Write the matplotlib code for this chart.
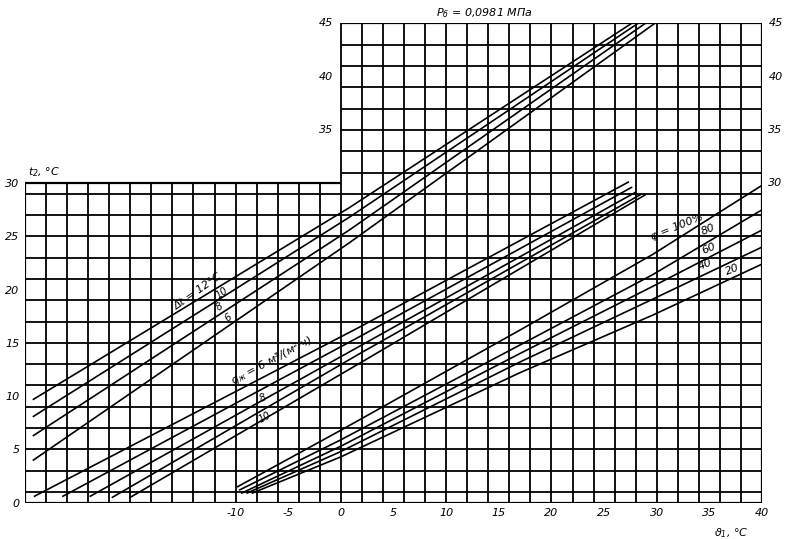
import matplotlib
matplotlib.use("Agg")
import matplotlib.pyplot as plt
import matplotlib.font_manager as fm
import numpy as np

# шрифт: узкий, если есть
names = {f.name for f in fm.fontManager.ttflist}
fam = "Liberation Sans Narrow" if "Liberation Sans Narrow" in names else "DejaVu Sans"
plt.rcParams['font.family'] = [fam, 'DejaVu Sans']
plt.rcParams['font.style'] = 'italic'
plt.rcParams['mathtext.default'] = 'it'

# Семейство Δt (верхние линии)
dt_labels = ["Δt = 12°C", "10", "8", "6"]
dt_x = [[-29.2, 0.8, 27.6], [-29.2, 0.8, 28.2], [-29.2, 0.8, 28.9], [-29.2, 0.8, 29.8]]
dt_t = [[9.7, 27.7, 45.0], [8.1, 26.8, 45.0], [6.3, 25.6, 45.0], [4.0, 24.4, 45.0]]

# Семейство q_ж (средние линии)
q_labels = ["$q_ж$ = 6 м³/(м²·ч)", "8", "10"]
q_x = [[-29.1, 1.8, 27.3], [-26.4, 1.8, 27.6], [-23.8, 1.8, 27.9],
       [-21.7, 1.8, 28.4], [-20.0, 1.8, 28.9]]
q_t = [[0.6, 16.5, 30.1], [0.6, 15.6, 29.6], [0.6, 14.7, 29.1],
       [0.5, 14.0, 28.9], [0.5, 13.1, 28.9]]

# Семейство φ (нижние линии)
phi_labels = ["φ = 100%", "80", "60", "40", "20"]
phi_x = [[-9.8, 0, 17, 29.6, 40], [-9.6, 0, 17, 29.6, 40], [-9.4, 0, 17, 29.6, 40],
         [-8.9, 0, 17, 29.6, 40], [-8.4, 0, 17, 29.6, 40]]
phi_t = [[1.5, 6.8, 16.2, 23.3, 29.8], [1.2, 5.9, 14.8, 21.4, 27.5],
         [0.9, 5.3, 14.0, 20.3, 25.6], [0.9, 4.8, 13.2, 19.1, 24.0],
         [0.9, 4.3, 12.2, 17.6, 22.4]]

xticks = [-10, -5, 0, 5, 10, 15, 20, 25, 30, 35, 40]
yticks_left = [0, 5, 10, 15, 20, 25, 30]
yticks_right = [30, 35, 40, 45]
yticks_upper = [35, 40, 45]

fig = plt.figure(figsize=(7.87, 5.39), dpi=100)
ax = fig.add_axes([0.0318, 0.0675, 0.9365, 0.889])
ax.set_xlim(-30, 40)
ax.set_ylim(0, 45)
for s in ax.spines.values():
    s.set_visible(False)

# сетка: вертикальные линии через 2, горизонтальные по нечётным
glw = 1.3
for x in np.arange(-28, 40, 2):
    ax.vlines(x, 0, 30 if x < 0 else 45, color='black', lw=glw)
for t in np.arange(1, 45, 2):
    ax.hlines(t, -30 if t < 30 else 0, 40, color='black', lw=glw)
# рамка
ax.vlines(-30, 0, 30, color='black', lw=1.6)
ax.vlines(40, 0, 45, color='black', lw=1.6)
ax.hlines(0, -30, 40, color='black', lw=1.6)
ax.hlines(30, -30, 0, color='black', lw=1.6)
ax.hlines(45, 0, 40, color='black', lw=1.6)

clw = 1.2
for xs, ts in zip(dt_x, dt_t):
    ax.plot(xs, ts, color='black', lw=clw)
for xs, ts in zip(q_x, q_t):
    ax.plot(xs, ts, color='black', lw=clw)
for xs, ts in zip(phi_x, phi_t):
    ax.plot(xs, ts, color='black', lw=clw)

fs = 8
# подписи Δt
ax.text(-13.6, 19.8, dt_labels[0], fontsize=fs, rotation=35, ha='center', va='center')
ax.text(-11.3, 19.7, dt_labels[1], fontsize=fs - 1, rotation=35, ha='center', va='center')
ax.text(-11.5, 18.4, dt_labels[2], fontsize=fs - 1, rotation=35, ha='center', va='center')
ax.text(-10.7, 17.4, dt_labels[3], fontsize=fs - 1, rotation=35, ha='center', va='center')
# подписи q
ax.text(-6.6, 13.3, q_labels[0], fontsize=fs, rotation=28, ha='center', va='center')
ax.text(-7.4, 9.8, q_labels[1], fontsize=fs - 1, rotation=28, ha='center', va='center')
ax.text(-7.2, 8.0, q_labels[2], fontsize=fs - 1, rotation=28, ha='center', va='center')
# подписи φ
ax.text(31.9, 25.9, phi_labels[0], fontsize=fs, rotation=22, ha='center', va='center')
ax.text(34.9, 25.6, phi_labels[1], fontsize=fs, rotation=22, ha='center', va='center')
ax.text(34.9, 23.9, phi_labels[2], fontsize=fs, rotation=22, ha='center', va='center')
ax.text(34.6, 22.4, phi_labels[3], fontsize=fs, rotation=22, ha='center', va='center')
ax.text(37.2, 21.9, phi_labels[4], fontsize=fs, rotation=22, ha='center', va='center')

# оси
ax.set_xticks(xticks)
ax.set_xticklabels([str(v) for v in xticks], fontsize=fs)
ax.set_yticks(yticks_left)
ax.set_yticklabels([str(v) for v in yticks_left], fontsize=fs)
ax.tick_params(length=0, pad=4)
for t in yticks_right:
    ax.text(40.6, t, str(t), fontsize=fs, ha='left', va='center')
for t in yticks_upper:
    ax.text(-0.7, t, str(t), fontsize=fs, ha='right', va='center')

ax.text(-29.7, 30.4, "$t_2$, °C", fontsize=fs, ha='left', va='bottom')
ax.text(38.7, -2.2, "$\\vartheta_1$, °C", fontsize=fs, ha='right', va='top')
fig.text(484 / 787, 1 - 13 / 539, "$P_б$ = 0,0981 МПа", fontsize=fs, ha='center', va='center')

fig.savefig("out.png", dpi=100)
